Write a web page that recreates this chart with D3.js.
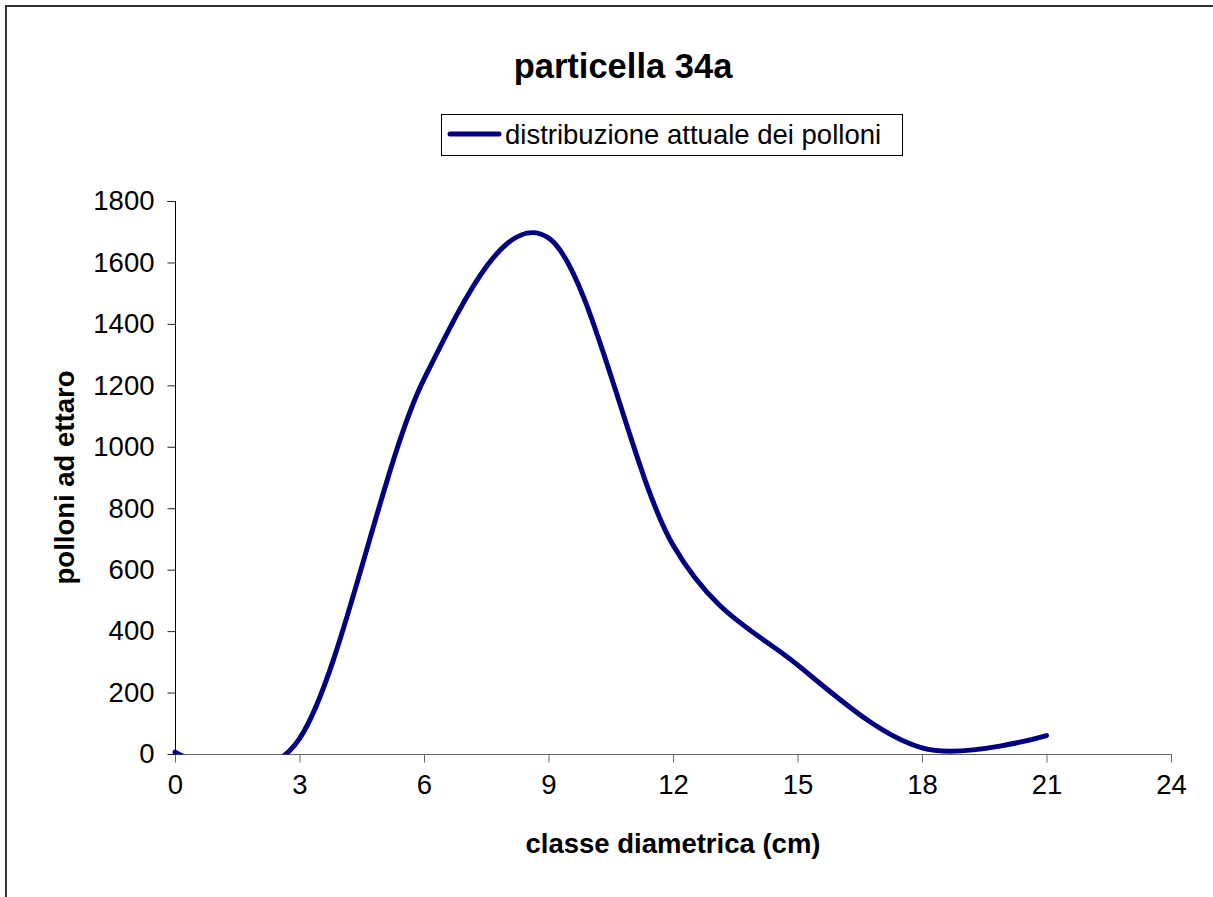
<!DOCTYPE html>
<html>
<head>
<meta charset="utf-8">
<script src="https://cdn.jsdelivr.net/npm/d3@7"></script>
<style>
  html, body { margin: 0; padding: 0; background: #fff; }
  svg { display: block; }
  text { font-family: "Liberation Sans", Arial, sans-serif; fill: #000; }
</style>
</head>
<body>
<svg id="chart" width="1213" height="897"></svg>
<script>
// classe diametrica (cm) and polloni ad ettaro
var classi = [0, 3, 6, 9, 12, 15, 18, 21];
var polloni = [6, 50, 1220, 1680, 680, 290, 20, 60];
var xTicks = [0, 3, 6, 9, 12, 15, 18, 21, 24];
var yTicks = [0, 200, 400, 600, 800, 1000, 1200, 1400, 1600, 1800];

var chartTitle = 'particella 34a';
var seriesName = 'distribuzione attuale dei polloni';
var xTitle = 'classe diametrica (cm)';
var yTitle = 'polloni ad ettaro';

var lineColor = '#000080';
var plotLeft = 175, plotRight = 1171, plotTop = 201, plotBottom = 754;

var svg = d3.select('#chart');

// outer chart border (runs off the right and bottom edge)
svg.append('rect')
  .attr('x', 6).attr('y', 6)
  .attr('width', 1230).attr('height', 910)
  .attr('fill', '#fff')
  .attr('stroke', '#333')
  .attr('stroke-width', 2);

var x = d3.scaleLinear().domain([0, 24]).range([plotLeft, plotRight]);
var y = d3.scaleLinear().domain([0, 1800]).range([plotBottom, plotTop]);

// title
svg.append('text')
  .attr('x', 623).attr('y', 78)
  .attr('text-anchor', 'middle')
  .attr('font-size', 34.5)
  .attr('font-weight', 'bold')
  .text(chartTitle);

// legend
var legend = svg.append('g');
legend.append('rect')
  .attr('x', 441.5).attr('y', 114.5)
  .attr('width', 461).attr('height', 41)
  .attr('fill', '#fff')
  .attr('stroke', '#000')
  .attr('stroke-width', 1);
legend.append('line')
  .attr('x1', 450).attr('x2', 499)
  .attr('y1', 134).attr('y2', 134)
  .attr('stroke', lineColor)
  .attr('stroke-width', 5)
  .attr('stroke-linecap', 'round');
legend.append('text')
  .attr('x', 505).attr('y', 143.5)
  .attr('font-size', 27.5)
  .text(seriesName);

// clip for the curve, like the plot area
svg.append('clipPath').attr('id', 'plotClip')
  .append('rect')
  .attr('x', plotLeft - 10).attr('y', plotTop - 10)
  .attr('width', plotRight - plotLeft + 20)
  .attr('height', plotBottom - plotTop + 10.5);

// y axis
var yAxis = svg.append('g')
  .attr('transform', 'translate(' + (plotLeft + 0.5) + ',0)')
  .call(d3.axisLeft(y).tickValues(yTicks).tickSize(8).tickPadding(13).tickFormat(d3.format('d')));
yAxis.select('.domain').attr('stroke', '#000').attr('d', 'M-8,' + (plotTop + 0.5) + 'H0V' + (plotBottom + 0.5));
yAxis.selectAll('.tick line').attr('stroke', '#222');
yAxis.selectAll('.tick text')
  .attr('font-size', 27.5)
  .attr('font-family', '"Liberation Sans", Arial, sans-serif')
  .attr('fill', '#000');

// x axis
var xAxis = svg.append('g')
  .attr('transform', 'translate(0,' + (plotBottom + 0.5) + ')')
  .call(d3.axisBottom(x).tickValues(xTicks).tickSize(8).tickPadding(12));
xAxis.select('.domain').attr('stroke', '#666').attr('d', 'M' + plotLeft + ',0H' + (plotRight + 0.5));
xAxis.selectAll('.tick line').attr('stroke', '#666');
xAxis.selectAll('.tick text')
  .attr('font-size', 27.5)
  .attr('font-family', '"Liberation Sans", Arial, sans-serif')
  .attr('fill', '#000');

// axis titles
svg.append('text')
  .attr('x', (plotLeft + plotRight) / 2).attr('y', 853)
  .attr('text-anchor', 'middle')
  .attr('font-size', 27.5)
  .attr('font-weight', 'bold')
  .text(xTitle);

svg.append('text')
  .attr('transform', 'translate(73.5,' + ((plotTop + plotBottom) / 2) + ') rotate(-90)')
  .attr('text-anchor', 'middle')
  .attr('font-size', 27.5)
  .attr('font-weight', 'bold')
  .text(yTitle);

// smoothed series line
var line = d3.line()
  .x(function (d, i) { return x(classi[i]); })
  .y(function (d) { return y(d); })
  .curve(d3.curveCardinal.tension(0));

svg.append('path')
  .datum(polloni)
  .attr('clip-path', 'url(#plotClip)')
  .attr('d', line)
  .attr('fill', 'none')
  .attr('stroke', lineColor)
  .attr('stroke-width', 5)
  .attr('stroke-linecap', 'round')
  .attr('stroke-linejoin', 'round');
</script>
</body>
</html>
